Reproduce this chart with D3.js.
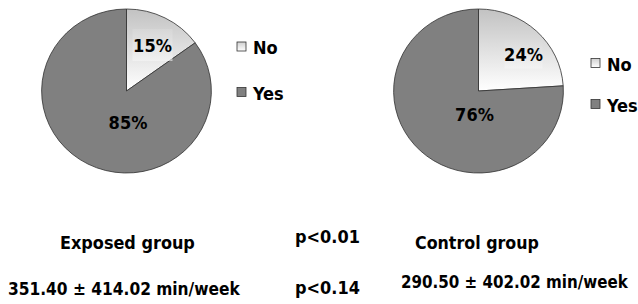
<!DOCTYPE html>
<html>
<head>
<meta charset="utf-8">
<script src="https://cdn.jsdelivr.net/npm/d3@7"></script>
<style>
  body { margin: 0; background: #fff; }
  text { font-family: "DejaVu Sans Condensed", "DejaVu Sans", Verdana, sans-serif; font-weight: bold; fill: #000; }
</style>
</head>
<body>
<div id="chart"></div>
<script>
// DATA
const categories = ["No", "Yes"];
const exposedValues = [15, 85];
const controlValues = [24, 76];
const groupNames = ["Exposed group", "Control group"];
const groupMeans = ["351.40 ± 414.02 min/week", "290.50 ± 402.02 min/week"];
const pValues = ["p<0.01", "p<0.14"];

const width = 638, height = 304;

const svg = d3.select("#chart").append("svg")
    .attr("width", width)
    .attr("height", height);

// gradients
const defs = svg.append("defs");
const slGrad = defs.append("linearGradient")
    .attr("id", "noGrad").attr("x1", 0).attr("y1", 0).attr("x2", 0).attr("y2", 1);
slGrad.append("stop").attr("offset", "0%").attr("stop-color", "#c2c2c2");
slGrad.append("stop").attr("offset", "100%").attr("stop-color", "#ffffff");

const boxGrad = defs.append("linearGradient")
    .attr("id", "boxGrad").attr("x1", 0).attr("y1", 0).attr("x2", 0).attr("y2", 1);
boxGrad.append("stop").attr("offset", "0%").attr("stop-color", "#dadada");
boxGrad.append("stop").attr("offset", "100%").attr("stop-color", "#f6f6f6");

const legGrad = defs.append("linearGradient")
    .attr("id", "legGrad").attr("x1", 0).attr("y1", 0).attr("x2", 0).attr("y2", 1);
legGrad.append("stop").attr("offset", "0%").attr("stop-color", "#d0d0d0");
legGrad.append("stop").attr("offset", "100%").attr("stop-color", "#ffffff");

const color = d3.scaleOrdinal()
    .domain(categories)
    .range(["url(#noGrad)", "#808080"]);

const pie = d3.pie().sort(null).value(d => d);
const sx = 1.035; // the pies are a little wider than tall

function makePie(values, cx, cy, r, labelOff, box, legendX, legendY, legendGap) {
    const g = svg.append("g")
        .attr("transform", `translate(${cx},${cy}) scale(${sx},1)`);
    const arc = d3.arc().innerRadius(0).outerRadius(r);
    const arcs = pie(values);

    g.selectAll("path")
        .data(arcs)
        .enter()
        .append("path")
        .attr("d", arc)
        .attr("fill", (d, i) => color(categories[i]))
        .attr("stroke", "#333")
        .attr("stroke-width", 0.8);

    // labels (placed like the spreadsheet did, offset from centre)
    arcs.forEach((d, i) => {
        const x = cx + labelOff[i][0], y = cy + labelOff[i][1];
        if (i === 0) {
            svg.append("rect")
                .attr("x", x - box[0] / 2).attr("y", y - box[1] / 2)
                .attr("width", box[0]).attr("height", box[1])
                .attr("fill", "url(#boxGrad)")
                .attr("opacity", 0.6);
        }
        svg.append("text")
            .attr("x", x).attr("y", y)
            .attr("text-anchor", "middle")
            .attr("dominant-baseline", "central")
            .style("font-size", "18px")
            .text(values[i] + "%");
    });

    // legend
    categories.forEach((c, i) => {
        const ly = legendY + i * legendGap;
        svg.append("rect")
            .attr("x", legendX).attr("y", ly - 4.5)
            .attr("width", 9).attr("height", 9)
            .attr("fill", i === 0 ? "url(#legGrad)" : "#808080")
            .attr("stroke", "#333").attr("stroke-width", 0.8);
        svg.append("text")
            .attr("x", legendX + 16).attr("y", ly + 1)
            .attr("dominant-baseline", "central")
            .style("font-size", "18px")
            .text(c);
    });
}

makePie(exposedValues, 126.5, 91, 82, [[26, -46], [1.5, 31]], [40, 32], 237, 46.5, 45.5);
makePie(controlValues, 478.5, 91, 82, [[45, -37], [-4, 23.5]], [38, 29], 591, 63, 41);

// bottom texts: [x, baseline, width]
const namePos = [[60, 249, 135], [415, 249, 124]];
const meanPos = [[8, 295, 232], [401, 288, 227]];
const pPos = [[295, 243, 65], [295, 294, 65]];

// squeeze each text horizontally to the width it has in the picture
function addText(t, p, size) {
    const el = svg.append("text")
        .attr("x", 0).attr("y", 0)
        .style("font-size", size)
        .text(t);
    const w = el.node().getComputedTextLength();
    el.attr("transform", `translate(${p[0]},${p[1]}) scale(${p[2] / w},1)`);
}
groupNames.forEach((t, i) => addText(t, namePos[i], "18px"));
groupMeans.forEach((t, i) => addText(t, meanPos[i], "18px"));
pValues.forEach((t, i) => addText(t, pPos[i], "18px"));
</script>
</body>
</html>
